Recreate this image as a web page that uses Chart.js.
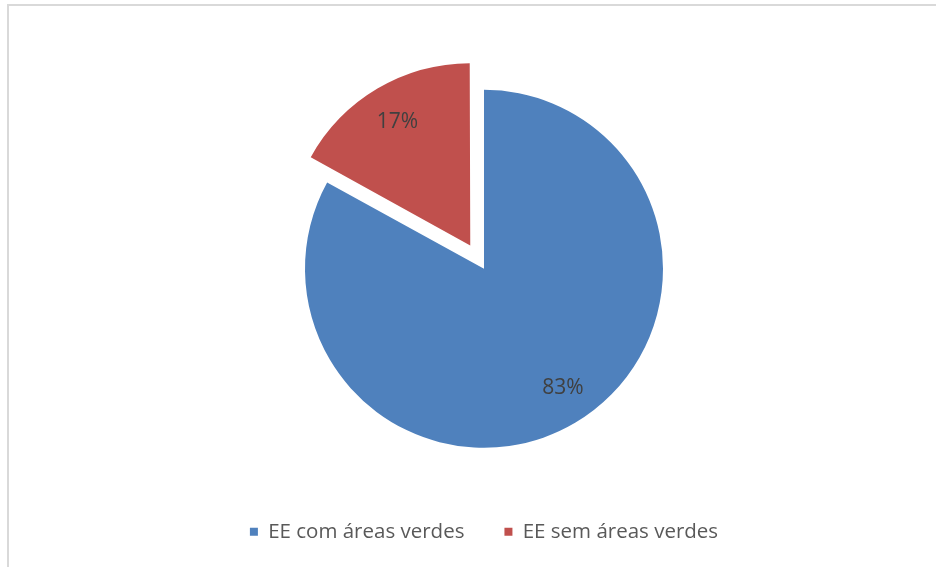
<!DOCTYPE html>
<html>
<head>
<meta charset="utf-8">
<script src="https://cdn.jsdelivr.net/npm/chart.js@4"></script>
<style>
    html, body { margin: 0; padding: 0; background: #fff; overflow: hidden; }
    #frame {
        position: absolute; left: 7px; top: 4px;
        width: 960px; height: 600px;
        border: 2px solid #d9d9d9; box-sizing: border-box;
    }
    #wrap { position: absolute; left: 0; top: 0; width: 936px; height: 567px; }
</style>
</head>
<body>
<div id="frame"></div>
<div id="wrap"><canvas id="myChart" width="936" height="567"></canvas></div>
<script>
var categories = ['EE com áreas verdes', 'EE sem áreas verdes'];
var shares = [83, 17];
var colors = ['#4F81BD', '#C0504D'];
// chart.js v4 moves an arc by offset/4, so 108 -> ~27px
var offsets = [0, 108];

// percent labels sitting along each slice's bisector
var sliceLabels = {
    id: 'sliceLabels',
    afterDatasetsDraw: function(chart) {
        var ctx = chart.ctx;
        var meta = chart.getDatasetMeta(0);
        ctx.save();
        ctx.font = '21px "Open Sans"';
        ctx.fillStyle = '#404040';
        ctx.textAlign = 'center';
        ctx.textBaseline = 'middle';
        meta.data.forEach(function(arc, i) {
            var p = arc.getProps(['x', 'y', 'startAngle', 'endAngle', 'outerRadius'], true);
            var mid = (p.startAngle + p.endAngle) / 2 - (i == 0 ? 0.05 : 0);
            var d = offsets[i] / 4 + p.outerRadius * 0.8;
            ctx.fillText(shares[i] + '%', p.x + Math.cos(mid) * d, p.y + Math.sin(mid) * d);
        });
        ctx.restore();
    }
};

var ctx = document.getElementById('myChart').getContext('2d');
var myChart = new Chart(ctx, {
    type: 'pie',
    data: {
        labels: categories,
        datasets: [{
            data: shares,
            backgroundColor: colors,
            borderWidth: 0,
            offset: offsets
        }]
    },
    options: {
        responsive: false,
        animation: false,
        radius: 179,
        layout: { padding: { left: 32, right: 0, top: 56, bottom: 15 } },
        plugins: {
            tooltip: { enabled: false },
            legend: {
                position: 'bottom',
                labels: {
                    boxWidth: 8,
                    boxHeight: 8,
                    padding: 40,
                    color: '#595959',
                    font: { family: 'Open Sans', size: 20.5 }
                }
            }
        }
    },
    plugins: [sliceLabels]
});
</script>
</body>
</html>
